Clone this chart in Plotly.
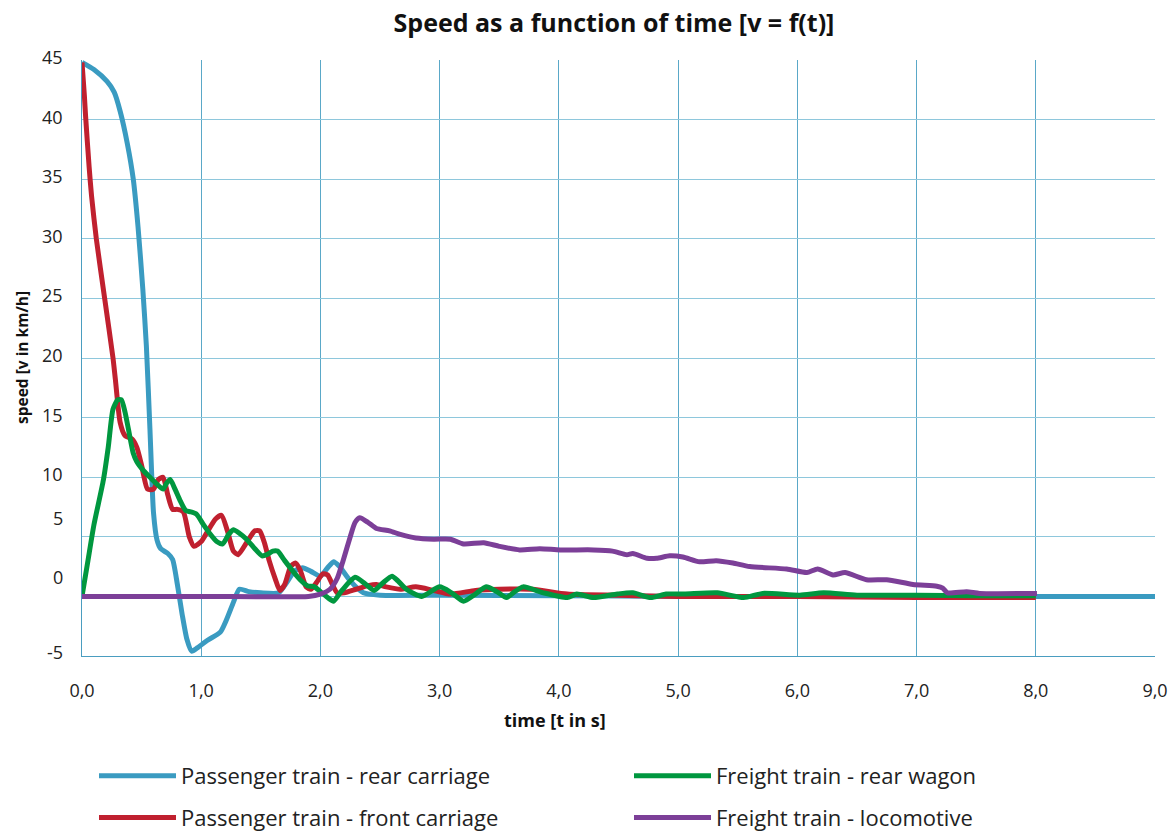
import plotly.graph_objects as go

# ---------------- data ----------------
rear_carriage_t = [0.0, 0.1, 0.21, 0.27, 0.32, 0.38, 0.43, 0.47, 0.51, 0.54, 0.57, 0.60, 0.63, 0.66,
                   0.72, 0.76, 0.80, 0.84, 0.88, 0.92, 0.97, 1.05, 1.16, 1.21, 1.27, 1.32, 1.40, 1.50,
                   1.65, 1.72, 1.78, 1.85, 1.92, 2.0, 2.06, 2.11, 2.16, 2.25, 2.36, 2.5, 3.0, 4.0, 5.0,
                   6.0, 7.0, 8.0, 9.0]
rear_carriage_v = [44.8, 44.2, 43.2, 42.3, 40.7, 38.0, 35.0, 31.0, 25.8, 21.0, 14.0, 7.0, 4.7, 4.0,
                   3.6, 3.1, 1.0, -1.5, -3.6, -4.6, -4.3, -3.7, -3.0, -2.0, -0.5, 0.6, 0.4, 0.3,
                   0.3, 1.2, 2.1, 2.4, 2.1, 1.7, 2.4, 2.9, 2.5, 1.3, 0.3, 0.1, 0.1, 0.05, 0.0,
                   0.0, 0.0, 0.0, 0.0]

front_carriage_t = [0.0, 0.02, 0.03, 0.06, 0.08, 0.12, 0.19, 0.26, 0.28, 0.32, 0.36, 0.42, 0.46, 0.50,
                    0.55, 0.60, 0.64, 0.68, 0.72, 0.76, 0.80, 0.85, 0.90, 0.94, 1.0, 1.05, 1.12, 1.17,
                    1.22, 1.27, 1.31, 1.38, 1.45, 1.49, 1.53, 1.57, 1.62, 1.66, 1.70, 1.75, 1.79, 1.83,
                    1.88, 1.92, 1.97, 2.02, 2.06, 2.10, 2.14, 2.2, 2.3, 2.4, 2.47, 2.55, 2.67, 2.8,
                    2.95, 3.09, 3.3, 3.5, 3.78, 4.07, 4.5, 5.0, 6.0, 7.0, 8.0]
front_carriage_v = [44.8, 42.0, 40.3, 36.0, 33.6, 30.0, 25.0, 20.0, 18.2, 14.6, 13.5, 13.2, 12.5, 11.0,
                    9.0, 9.0, 9.8, 10.0, 8.5, 7.3, 7.3, 7.1, 5.0, 4.2, 4.6, 5.4, 6.5, 6.8,
                    5.5, 3.8, 3.5, 4.5, 5.5, 5.5, 4.5, 3.0, 1.5, 0.5, 1.0, 2.5, 2.8, 2.2,
                    0.8, 0.6, 1.2, 1.9, 1.8, 1.0, 0.3, 0.3, 0.6, 0.9, 1.0, 0.8, 0.6, 0.8,
                    0.5, 0.2, 0.5, 0.6, 0.6, 0.2, 0.1, 0.0, 0.0, -0.1, -0.1]

rear_wagon_t = [0.0, 0.05, 0.10, 0.18, 0.22, 0.26, 0.30, 0.33, 0.36, 0.39, 0.43, 0.46, 0.52, 0.57,
                0.63, 0.68, 0.71, 0.74, 0.78, 0.82, 0.87, 0.91, 0.96, 1.02, 1.07, 1.13, 1.18, 1.23,
                1.27, 1.32, 1.38, 1.45, 1.51, 1.55, 1.60, 1.64, 1.70, 1.77, 1.83, 1.89, 1.95, 2.0,
                2.06, 2.11, 2.18, 2.29, 2.37, 2.45, 2.52, 2.6, 2.65, 2.72, 2.85, 3.0, 3.1, 3.2,
                3.3, 3.39, 3.48, 3.56, 3.63, 3.70, 3.87, 4.07, 4.15, 4.29, 4.49, 4.62, 4.77, 4.9,
                5.05, 5.33, 5.55, 5.71, 6.02, 6.22, 6.5, 7.0, 7.5, 8.0]
rear_wagon_v = [0.0, 3.0, 6.0, 9.8, 12.5, 15.7, 16.5, 16.5, 15.5, 14.0, 12.0, 11.3, 10.5, 10.0,
                9.4, 9.0, 9.5, 9.8, 9.0, 8.1, 7.2, 7.1, 6.9, 6.0, 5.3, 4.6, 4.4, 5.2,
                5.6, 5.3, 4.8, 4.0, 3.4, 3.5, 3.8, 3.8, 3.0, 2.1, 1.4, 0.9, 0.8, 0.4,
                -0.1, -0.4, 0.5, 1.6, 1.1, 0.5, 1.1, 1.7, 1.3, 0.6, 0.0, 0.8, 0.3, -0.4,
                0.2, 0.8, 0.4, -0.1, 0.4, 0.8, 0.3, -0.1, 0.2, -0.1, 0.2, 0.3, -0.1, 0.2,
                0.2, 0.3, -0.1, 0.25, 0.1, 0.3, 0.1, 0.1, 0.05, 0.05]

locomotive_t = [0.0, 1.0, 1.9, 2.0, 2.08, 2.14, 2.19, 2.25, 2.29, 2.33, 2.40, 2.47, 2.58, 2.67,
                2.8, 2.95, 3.09, 3.2, 3.37, 3.5, 3.67, 3.84, 4.01, 4.29, 4.45, 4.57, 4.62, 4.74,
                4.82, 4.93, 5.04, 5.18, 5.32, 5.46, 5.6, 5.91, 6.08, 6.17, 6.3, 6.4, 6.58, 6.75,
                6.97, 7.17, 7.22, 7.26, 7.42, 7.53, 8.01]
locomotive_v = [0.0, 0.0, 0.0, 0.2, 0.6, 1.5, 3.0, 5.0, 6.2, 6.6, 6.2, 5.7, 5.5, 5.2,
                4.9, 4.8, 4.8, 4.4, 4.5, 4.2, 3.9, 4.0, 3.9, 3.9, 3.8, 3.5, 3.6, 3.2,
                3.2, 3.4, 3.3, 2.9, 3.0, 2.8, 2.5, 2.3, 2.0, 2.3, 1.8, 2.0, 1.4, 1.4,
                1.0, 0.85, 0.7, 0.3, 0.4, 0.25, 0.25]

series_names = ["Passenger train - rear carriage", "Passenger train - front carriage",
                "Freight train - rear wagon", "Freight train - locomotive"]
series_colors = ["#3a9bc1", "#c0202f", "#00973f", "#7c3f98"]

x_tick_vals = [0, 1, 2, 3, 4, 5, 6, 7, 8, 9]
x_tick_text = ["0,0", "1,0", "2,0", "3,0", "4,0", "5,0", "6,0", "7,0", "8,0", "9,0"]
y_tick_vals = [45, 40, 35, 30, 25, 20, 15, 10, 5, 0, -5]
y_tick_text = ["45", "40", "35", "30", "25", "20", "15", "10", "5", "0", "-5"]
# extra vertical pixel offset of each y label (the original places "5" and "0" higher)
y_label_shift = [3, 3, 3, 3, 3, 3, 3, 3, 19, 19, 4]

FONT = "Open Sans"

fig = go.Figure()
series = [(rear_carriage_t, rear_carriage_v, "legend"),
          (front_carriage_t, front_carriage_v, "legend"),
          (rear_wagon_t, rear_wagon_v, "legend2"),
          (locomotive_t, locomotive_v, "legend2")]
for i, (t, v, lg) in enumerate(series):
    fig.add_trace(go.Scatter(
        x=t, y=v, mode="lines", name=series_names[i],
        line=dict(color=series_colors[i], width=5, shape="spline", smoothing=0.6),
        legend=lg, legendgroup=f"g{i}",
    ))

for val, txt, sh in zip(y_tick_vals, y_tick_text, y_label_shift):
    fig.add_annotation(x=0, xref="paper", y=val, yref="y", text=txt, showarrow=False,
                       xanchor="right", yanchor="middle", xshift=-17, yshift=sh,
                       font=dict(family=FONT, size=18, color="#222"))

fig.add_annotation(x=-60 / 1073, xref="paper", y=0.5, yref="paper", text="<b>speed [v in km/h]</b>",
                   textangle=-90, showarrow=False, xanchor="center", yanchor="middle",
                   font=dict(family=FONT, size=15.5, color="#111"))
fig.add_annotation(x=(555 - 82) / 1073, xref="paper", y=0, yref="paper", yshift=-64,
                   text="<b>time [t in s]</b>", showarrow=False, xanchor="center", yanchor="middle",
                   font=dict(family=FONT, size=18, color="#111"))

legend_common = dict(orientation="v", traceorder="grouped", tracegroupgap=10,
                     font=dict(family=FONT, size=22, color="#222"), itemwidth=77,
                     bgcolor="rgba(0,0,0,0)", xref="paper", yref="paper",
                     xanchor="left", yanchor="top")

fig.update_layout(
    width=1170, height=832,
    margin=dict(l=82, r=15, t=60, b=176, autoexpand=False),
    plot_bgcolor="white", paper_bgcolor="white",
    title=dict(text="<b>Speed as a function of time [v = f(t)]</b>", x=614 / 1170, xanchor="center",
               y=1 - 23 / 832, yanchor="middle", font=dict(family=FONT, size=25, color="#111")),
    xaxis=dict(range=[0, 9], tickvals=x_tick_vals, ticktext=x_tick_text,
               showgrid=True, gridcolor="#5aa8c8", gridwidth=1,
               showline=True, linecolor="#4a9dc0", linewidth=1, zeroline=False,
               ticks="", ticklabelstandoff=18,
               tickfont=dict(family=FONT, size=18, color="#222")),
    yaxis=dict(range=[-5, 45], tickvals=y_tick_vals, showticklabels=False,
               showgrid=True, gridcolor="#8ec7dc", gridwidth=1,
               showline=True, linecolor="#4a9dc0", linewidth=1, zeroline=False, ticks=""),
    legend=dict(x=(94 - 82) / 1073, y=-(755 - 656) / 596, **legend_common),
    legend2=dict(x=(629 - 82) / 1073, y=-(755 - 656) / 596, **legend_common),
    showlegend=True,
)

fig.write_html("out.html", config={"displayModeBar": False},
               post_script="document.body.style.margin='0';")
